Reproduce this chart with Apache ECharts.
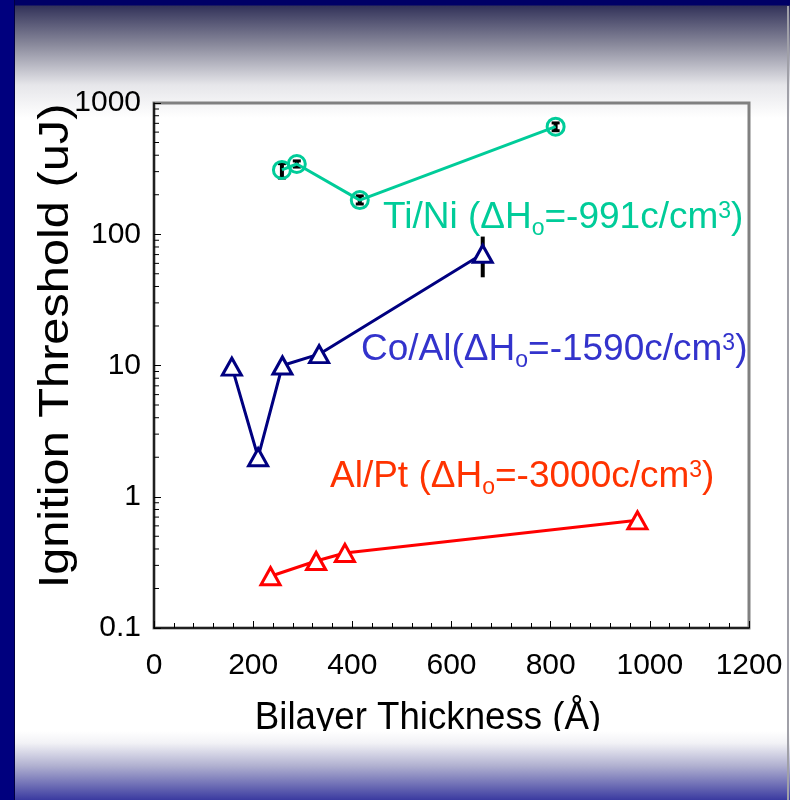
<!DOCTYPE html>
<html>
<head>
<meta charset="utf-8">
<script src="https://cdn.jsdelivr.net/npm/echarts@6/dist/echarts.min.js"></script>
<style>
html,body{margin:0;padding:0;background:#fff;}
#wrap{position:relative;width:790px;height:800px;overflow:hidden;background:#fff;}
#topband{position:absolute;left:0;top:0;width:790px;height:120px;
  background:linear-gradient(to bottom,#000066 0px,#000066 5px,#33335a 6px,#8a8a9c 45px,#e6e6ea 85px,#ffffff 118px);}
#chart{position:absolute;left:0;top:0;width:790px;height:800px;}
#botband{position:absolute;left:0;top:731px;width:790px;height:69px;z-index:5;
  background:linear-gradient(to bottom,#ffffff 0px,#f2f2f6 12px,#b0b0d0 35px,#3a3aa0 69px);}
#leftbar{position:absolute;left:0;top:0;width:14px;height:800px;z-index:6;background:#00007e;border-right:1px solid #000040;}
#rightline{position:absolute;left:787px;top:6px;width:2px;height:794px;z-index:6;background:#a0a0a8;}
</style>
</head>
<body>
<div id="wrap">
  <div id="topband"></div>
  <div id="chart"></div>
  <div id="botband"></div>
  <div id="leftbar"></div>
  <div id="rightline"></div>
</div>
<script>
// ---- data ----
const X_MIN = 0, X_MAX = 1200, X_STEP = 200;
const Y_MIN = 0.1, Y_MAX = 1000;

const tiNiX = [258, 288, 415, 810];
const tiNiY = [309, 343, 182, 660];
const tiNiLo = [268, 325, 170, 615];
const tiNiHi = [345, 362, 196, 705];

const coAlX = [157, 210, 259, 333, 663];
const coAlY = [9.8, 2.0, 10.0, 12.2, 71];
const coAlErrX = [663];
const coAlLo = [47];
const coAlHi = [96];

const alPtX = [235, 327, 385, 975];
const alPtY = [0.248, 0.324, 0.373, 0.661];

const yMinorTicks = [];
[0.1, 1, 10, 100].forEach(d => { for (let k = 2; k <= 9; k++) yMinorTicks.push(+(k * d).toPrecision(3)); });

const labelTiNi = 'Ti/Ni (ΔH';
const labelCoAl = 'Co/Al(ΔH';
const labelAlPt = 'Al/Pt (ΔH';
const subO = 'o';
const tailTiNi = '=-991c/cm';
const tailCoAl = '=-1590c/cm';
const tailAlPt = '=-3000c/cm';
const sup3 = '3';

const zip = (a, b) => a.map((v, i) => [v, b[i]]);

const FONT = 'Liberation Sans, Arial, sans-serif';
const cTiNi = '#00CC99', cCoAl = '#000080', cAlPt = '#FF0000';

function richLabel(color) {
  return {
    m: {fontSize: 37, fontFamily: FONT, fill: color, lineHeight: 48, verticalAlign: 'middle'},
    s: {fontSize: 23, fontFamily: FONT, fill: color, lineHeight: 23, verticalAlign: 'bottom', padding: [0, 0, 2, 0]},
    p: {fontSize: 23, fontFamily: FONT, fill: color, lineHeight: 23, verticalAlign: 'top', padding: [6, 0, 0, 0]}
  };
}

const chart = echarts.init(document.getElementById('chart'), null, {renderer: 'canvas'});

function errorBarItem(params, api) {
  const x = api.value(0);
  const lo = api.coord([x, api.value(1)]);
  const hi = api.coord([x, api.value(2)]);
  const w = 4;
  return {
    type: 'group',
    children: [
      {type: 'line', shape: {x1: lo[0], y1: lo[1], x2: hi[0], y2: hi[1]}, style: {stroke: '#000', lineWidth: 4}},
      {type: 'line', shape: {x1: lo[0] - w, y1: lo[1], x2: lo[0] + w, y2: lo[1]}, style: {stroke: '#000', lineWidth: 3}},
      {type: 'line', shape: {x1: hi[0] - w, y1: hi[1], x2: hi[0] + w, y2: hi[1]}, style: {stroke: '#000', lineWidth: 3}}
    ]
  };
}

const option = {
  animation: false,
  backgroundColor: 'transparent',
  grid: {left: 154, top: 103, width: 595, height: 525, show: true, borderColor: '#808080', borderWidth: 3, backgroundColor: 'transparent'},
  xAxis: {
    type: 'value', min: X_MIN, max: X_MAX, interval: X_STEP,
    axisLine: {show: true, lineStyle: {color: '#000', width: 1.5}},
    axisTick: {show: true, inside: true, length: 7, lineStyle: {color: '#000', width: 1}},
    minorTick: {show: true, splitNumber: 5, length: 5, lineStyle: {color: '#000', width: 1}},
    splitLine: {show: false},
    axisLabel: {fontSize: 30, fontFamily: FONT, color: '#000', margin: 23, formatter: v => String(v)}
  },
  yAxis: {
    type: 'log', logBase: 10, min: Y_MIN, max: Y_MAX,
    axisLine: {show: true, lineStyle: {color: '#000', width: 1.5}},
    axisTick: {show: true, inside: true, length: 7, lineStyle: {color: '#000', width: 1}},
    splitLine: {show: false},
    axisLabel: {fontSize: 30, fontFamily: FONT, color: '#000', margin: 13, formatter: v => String(v)}
  },
  graphic: [
    {type: 'text', left: 383, top: 194, z: 10, style: {rich: richLabel('#00CC99'),
      text: '{m|' + labelTiNi + '}{s|' + subO + '}{m|' + tailTiNi + '}{p|' + sup3 + '}{m|)}'}},
    {type: 'text', left: 361, top: 326, z: 10, style: {rich: richLabel('#3333CC'),
      text: '{m|' + labelCoAl + '}{s|' + subO + '}{m|' + tailCoAl + '}{p|' + sup3 + '}{m|)}'}},
    {type: 'text', left: 330, top: 453, z: 10, style: {rich: richLabel('#FF3300'),
      text: '{m|' + labelAlPt + '}{s|' + subO + '}{m|' + tailAlPt + '}{p|' + sup3 + '}{m|)}'}},
    {type: 'text', x: 56, y: 346, rotation: Math.PI / 2, z: 10,
      style: {text: 'Ignition Threshold (uJ)', font: '42px ' + FONT, fill: '#000', align: 'center', verticalAlign: 'middle'},
      scaleX: 1.16, scaleY: 1},
    {type: 'text', x: 428, y: 718, z: 10,
      style: {text: 'Bilayer Thickness (Å)', font: '39px ' + FONT, fill: '#000', align: 'center', verticalAlign: 'middle'},
      scaleX: 0.94, scaleY: 1}
  ],
  series: [
    {
      type: 'custom', name: 'yMinor', silent: true, z: 3,
      data: yMinorTicks.map(v => [X_MIN, v]),
      encode: {x: 0, y: 1},
      renderItem: (params, api) => {
        const p = api.coord([api.value(0), api.value(1)]);
        return {type: 'line', shape: {x1: p[0], y1: p[1], x2: p[0] + 5, y2: p[1]}, style: {stroke: '#000', lineWidth: 1}};
      }
    },
    {
      type: 'custom', name: 'TiNiErr', z: 2, silent: true,
      data: tiNiX.map((x, i) => [x, tiNiLo[i], tiNiHi[i]]),
      encode: {x: 0, y: [1, 2]},
      renderItem: errorBarItem
    },
    {
      type: 'custom', name: 'CoAlErr', z: 2, silent: true,
      data: coAlErrX.map((x, i) => [x, coAlLo[i], coAlHi[i]]),
      encode: {x: 0, y: [1, 2]},
      renderItem: (params, api) => {
        const x = api.value(0);
        const lo = api.coord([x, api.value(1)]);
        const hi = api.coord([x, api.value(2)]);
        return {type: 'line', shape: {x1: lo[0], y1: lo[1], x2: hi[0], y2: hi[1]}, style: {stroke: '#000', lineWidth: 4}};
      }
    },
    {
      type: 'line', name: 'Ti/Ni', data: zip(tiNiX, tiNiY), z: 4,
      lineStyle: {color: cTiNi, width: 3},
      symbol: 'circle', symbolSize: 17, showAllSymbol: true,
      itemStyle: {color: 'rgba(255,255,255,0)', borderColor: cTiNi, borderWidth: 3}
    },
    {
      type: 'line', name: 'Co/Al', data: zip(coAlX, coAlY), z: 4,
      lineStyle: {color: cCoAl, width: 3},
      symbol: 'triangle', symbolSize: [19, 17], showAllSymbol: true,
      itemStyle: {color: '#fff', borderColor: cCoAl, borderWidth: 3}
    },
    {
      type: 'line', name: 'Al/Pt', data: zip(alPtX, alPtY), z: 4,
      lineStyle: {color: cAlPt, width: 3},
      symbol: 'triangle', symbolSize: [19, 17], showAllSymbol: true,
      itemStyle: {color: '#fff', borderColor: cAlPt, borderWidth: 3}
    }
  ]
};
chart.setOption(option);
</script>
</body>
</html>
